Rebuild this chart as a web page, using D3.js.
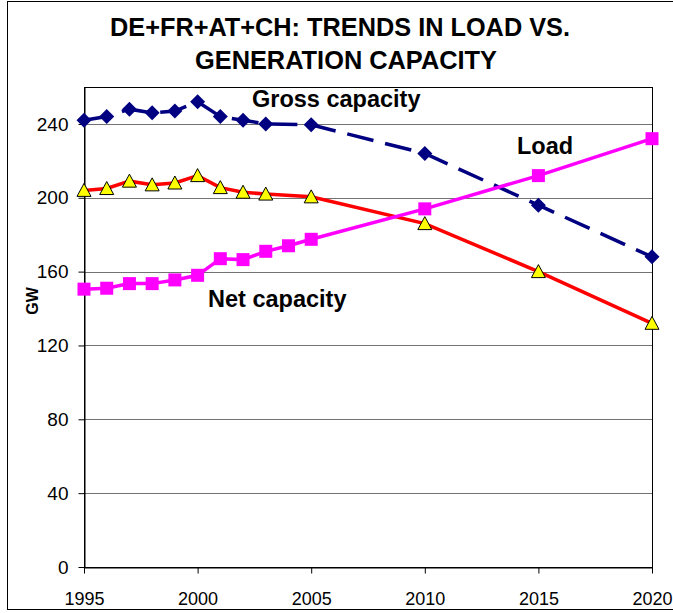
<!DOCTYPE html>
<html>
<head>
<meta charset="utf-8">
<script src="https://cdn.jsdelivr.net/npm/d3@7"></script>
<style>
  body { margin: 0; background: #fff; }
  svg text { font-family: "Liberation Sans", Arial, sans-serif; }
</style>
</head>
<body>
<div id="chart"></div>
<script>
// data (GW)
const grossYears = [1995, 1996, 1997, 1998, 1999, 2000, 2001, 2002, 2003, 2005, 2010, 2015, 2020];
const grossValues = [242, 244, 248, 246, 247, 252, 244, 242, 240, 239.5, 224, 196, 168];

const netYears = [1995, 1996, 1997, 1998, 1999, 2000, 2001, 2002, 2003, 2005, 2010, 2015, 2020];
const netValues = [204, 205, 209, 207, 208, 212, 205.5, 203, 202, 200.5, 186, 160, 132];

const loadYears = [1995, 1996, 1997, 1998, 1999, 2000, 2001, 2002, 2003, 2004, 2005, 2010, 2015, 2020];
const loadValues = [150.5, 151, 153.5, 153.5, 155.5, 158, 167, 166.5, 171, 174, 177.5, 194, 212, 232];

const xTicks = [1995, 2000, 2005, 2010, 2015, 2020];
const yTicks = [0, 40, 80, 120, 160, 200, 240];

const width = 673, height = 613;
const plot = { left: 84, right: 652, top: 87, bottom: 567 };

const svg = d3.select("#chart").append("svg")
    .attr("width", width)
    .attr("height", height);

// outer chart border
svg.append("rect")
    .attr("x", 7.5).attr("y", 1.5)
    .attr("width", 680).attr("height", 608)
    .attr("fill", "none")
    .attr("stroke", "#000")
    .attr("stroke-width", 1);

let x = d3.scaleLinear().domain([1995, 2020]).range([plot.left, plot.right]);
let y = d3.scaleLinear().domain([0, 260]).range([plot.bottom, plot.top]);

// gridlines
svg.append("g")
    .selectAll("line")
    .data(yTicks.filter(d => d > 0))
    .enter()
    .append("line")
        .attr("x1", plot.left).attr("x2", plot.right)
        .attr("y1", d => Math.round(y(d)) + 0.5)
        .attr("y2", d => Math.round(y(d)) + 0.5)
        .attr("stroke", "#737373")
        .attr("stroke-width", 1);

// plot area border
svg.append("rect")
    .attr("x", plot.left + 0.5).attr("y", plot.top + 0.5)
    .attr("width", plot.right - plot.left).attr("height", plot.bottom - plot.top)
    .attr("fill", "none")
    .attr("stroke", "#000");

// axes
let xAxis = svg.append("g")
    .attr("transform", "translate(0," + (plot.bottom + 0.5) + ")")
    .call(d3.axisBottom(x).tickValues(xTicks).tickFormat(d3.format("d")).tickSize(6).tickSizeOuter(0));
xAxis.select(".domain").attr("stroke", "#000");
xAxis.selectAll("text")
    .attr("font-size", 18)
    .attr("dy", "1.6em")
    .attr("fill", "#000");

let yAxis = svg.append("g")
    .attr("transform", "translate(" + (plot.left + 0.5) + ",0)")
    .call(d3.axisLeft(y).tickValues(yTicks).tickSize(6).tickSizeOuter(0));
yAxis.select(".domain").attr("stroke", "#000");
yAxis.selectAll("text")
    .attr("font-size", 19)
    .attr("x", -16)
    .attr("fill", "#000");

// y axis title
svg.append("text")
    .attr("transform", "translate(38,301) rotate(-90)")
    .attr("text-anchor", "middle")
    .attr("font-size", 16)
    .attr("font-weight", "bold")
    .text("GW");

// chart title
svg.append("text")
    .attr("x", 340).attr("y", 36)
    .attr("text-anchor", "middle")
    .attr("font-size", 25)
    .attr("font-weight", "bold")
    .attr("textLength", 460)
    .attr("lengthAdjust", "spacingAndGlyphs")
    .text("DE+FR+AT+CH: TRENDS IN LOAD VS.");
svg.append("text")
    .attr("x", 346).attr("y", 69)
    .attr("text-anchor", "middle")
    .attr("font-size", 25)
    .attr("font-weight", "bold")
    .attr("textLength", 302)
    .attr("lengthAdjust", "spacingAndGlyphs")
    .text("GENERATION CAPACITY");

function toPoints(years, values) {
    return years.map((yr, i) => ({ year: yr, value: values[i] }));
}

let line = d3.line().x(d => x(d.year)).y(d => y(d.value));

const gross = toPoints(grossYears, grossValues);
const net = toPoints(netYears, netValues);
const load = toPoints(loadYears, loadValues);

// gross capacity - navy dashed
svg.append("path")
    .datum(gross)
    .attr("d", line)
    .attr("fill", "none")
    .attr("stroke", "#000080")
    .attr("stroke-width", 3.5)
    .attr("stroke-dasharray", "27,12");

// net capacity - red
svg.append("path")
    .datum(net)
    .attr("d", line)
    .attr("fill", "none")
    .attr("stroke", "#ff0000")
    .attr("stroke-width", 3.5);

// load - magenta
svg.append("path")
    .datum(load)
    .attr("d", line)
    .attr("fill", "none")
    .attr("stroke", "#ff00ff")
    .attr("stroke-width", 3.5);

// markers
svg.append("g").selectAll("path")
    .data(gross)
    .enter()
    .append("path")
        .attr("transform", d => "translate(" + x(d.year) + "," + y(d.value) + ")")
        .attr("d", "M0,-7.5L7.5,0L0,7.5L-7.5,0Z")
        .attr("fill", "#000080");

svg.append("g").selectAll("rect")
    .data(load)
    .enter()
    .append("rect")
        .attr("x", d => x(d.year) - 6.5)
        .attr("y", d => y(d.value) - 6.5)
        .attr("width", 13).attr("height", 13)
        .attr("fill", "#ff00ff");

svg.append("g").selectAll("path")
    .data(net)
    .enter()
    .append("path")
        .attr("transform", d => "translate(" + x(d.year) + "," + y(d.value) + ")")
        .attr("d", "M0,-7L7,6L-7,6Z")
        .attr("fill", "#ffff00")
        .attr("stroke", "#000")
        .attr("stroke-width", 1);

// series labels
svg.append("text")
    .attr("x", 252).attr("y", 107)
    .attr("font-size", 23.5).attr("font-weight", "bold")
    .text("Gross capacity");
svg.append("text")
    .attr("x", 517).attr("y", 154)
    .attr("font-size", 23.5).attr("font-weight", "bold")
    .text("Load");
svg.append("text")
    .attr("x", 208).attr("y", 307)
    .attr("font-size", 23.5).attr("font-weight", "bold")
    .text("Net capacity");
</script>
</body>
</html>
